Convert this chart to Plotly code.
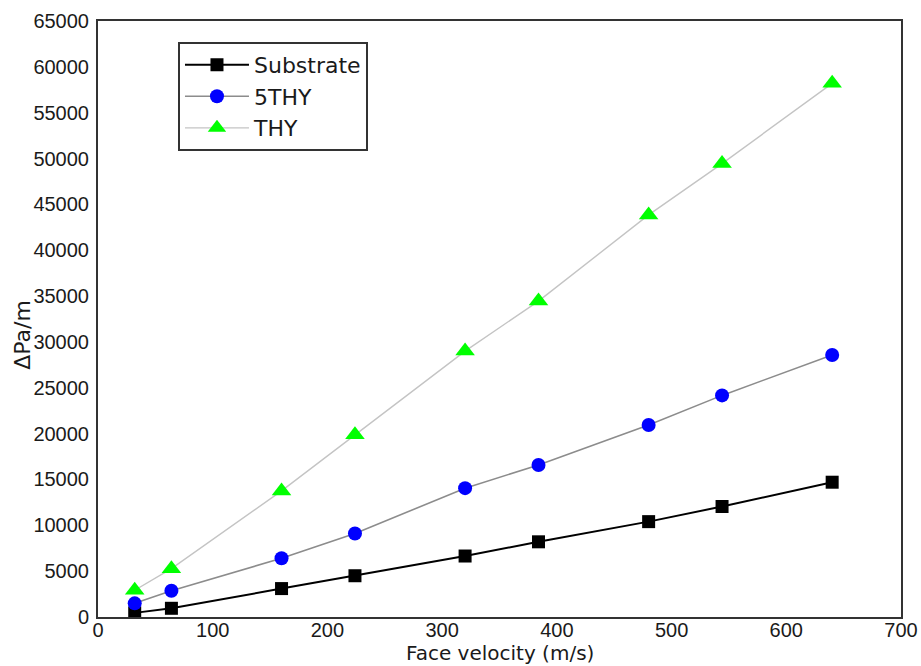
import plotly.graph_objects as go

# Face velocity (m/s) and pressure drop per unit length (Pa/m)
face_velocity = [32, 64, 160, 224, 320, 384, 480, 544, 640]
substrate = [450, 950, 3100, 4500, 6650, 8200, 10400, 12050, 14700]
thy5 = [1490, 2870, 6400, 9100, 14050, 16580, 20940, 24170, 28570]
thy = [2920, 5270, 13750, 19880, 29000, 34450, 43850, 49450, 58200]

x_ticks = [0, 100, 200, 300, 400, 500, 600, 700]
y_ticks = list(range(0, 65001, 5000))

FONT = "Liberation Sans, Arial, sans-serif"
WIDE = "DejaVu Sans, sans-serif"
TEXT = "#1a1a1a"

fig = go.Figure()

fig.add_trace(go.Scatter(
    x=face_velocity, y=substrate, name="Substrate", legendgroup="a",
    mode="lines+markers",
    line=dict(color="#000000", width=2),
    marker=dict(symbol="square", size=13, color="#000000"),
))
fig.add_trace(go.Scatter(
    x=face_velocity, y=thy5, name="5THY", legendgroup="b",
    mode="lines+markers",
    line=dict(color="#8c8c8c", width=1.6),
    marker=dict(symbol="circle", size=14, color="#0000ff"),
))
fig.add_trace(go.Scatter(
    x=face_velocity, y=thy, name="THY", legendgroup="c",
    mode="lines+markers",
    line=dict(color="#c4c4c4", width=1.4),
    marker=dict(symbol="triangle-up", size=17, color="#00ff00"),
))

axis_common = dict(
    showgrid=False, zeroline=False, ticks="", automargin=False,
    showline=True, linecolor="#333333", linewidth=2, mirror=True,
    tickfont=dict(family=FONT, size=20, color=TEXT),
)

fig.update_xaxes(range=[0, 700], tickvals=x_ticks, ticktext=[str(v) for v in x_ticks],
                 ticklabelstandoff=-6, **axis_common)
fig.update_yaxes(range=[0, 65000], tickvals=y_ticks, ticktext=[str(v) for v in y_ticks],
                 ticklabelstandoff=3, **axis_common)

fig.add_annotation(text="Face velocity (m/s)", xref="paper", yref="paper",
                   x=0.5, y=-0.0604, xanchor="center", yanchor="middle",
                   showarrow=False, font=dict(family=WIDE, size=20, color=TEXT))
fig.add_annotation(text="ΔPa/m", xref="paper", yref="paper",
                   x=-0.095, y=0.473, xanchor="center", yanchor="middle",
                   textangle=-90, showarrow=False,
                   font=dict(family=WIDE, size=22, color=TEXT))

fig.update_layout(
    width=921, height=666,
    margin=dict(l=98, r=20, t=21, b=49),
    paper_bgcolor="white", plot_bgcolor="white",
    showlegend=True,
    legend=dict(
        x=0.0996, y=0.965, xanchor="left", yanchor="top",
        bordercolor="#333333", borderwidth=2, bgcolor="white",
        font=dict(family=WIDE, size=22, color=TEXT),
        traceorder="grouped", tracegroupgap=0,
        itemwidth=64,
    ),
)

fig.write_html("out.html")
